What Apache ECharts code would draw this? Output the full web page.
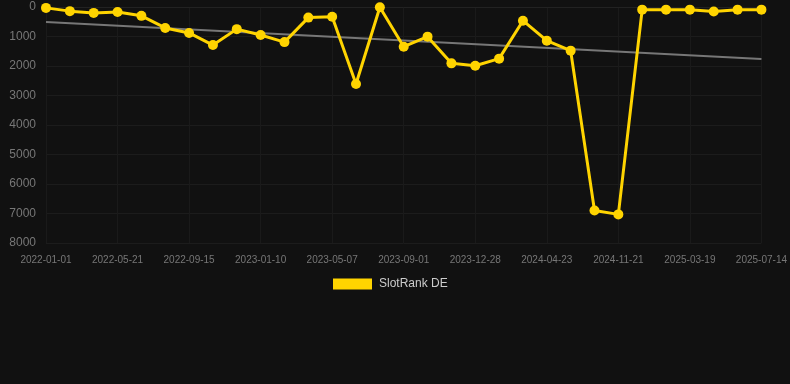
<!DOCTYPE html>
<html>
<head>
<meta charset="utf-8">
<script src="https://cdn.jsdelivr.net/npm/echarts@6/dist/echarts.min.js"></script>
<style>
html,body{margin:0;padding:0;background:#111111;}
#chart{width:790px;height:384px;}
</style>
</head>
<body>
<div id="chart"></div>
<script>
const categories = [
  '2022-01-01','2022-02-16','2022-04-03','2022-05-21','2022-06-29','2022-08-07',
  '2022-09-15','2022-10-24','2022-12-02','2023-01-10','2023-02-18','2023-03-29',
  '2023-05-07','2023-06-15','2023-07-24','2023-09-01','2023-10-10','2023-11-18',
  '2023-12-28','2024-02-05','2024-03-15','2024-04-23','2024-07-02','2024-09-10',
  '2024-11-21','2024-12-30','2025-02-07','2025-03-19','2025-04-27','2025-06-05',
  '2025-07-14'
];
const rankValues = [
  30, 140, 200, 170, 300, 710, 880, 1290, 750, 950, 1190, 360,
  330, 2610, 10, 1345, 1005, 1910, 1990, 1750, 465, 1140, 1480, 6900,
  7030, 90, 90, 90, 150, 90, 90
];
const trendValues = [510, null, null, null, null, null, null, null, null, null, null, null,
  null, null, null, null, null, null, null, null, null, null, null, null,
  null, null, null, null, null, null, 1760];
const yTicks = [0, 8000, 1000];
const seriesName = 'SlotRank DE';

const chart = echarts.init(document.getElementById('chart'));
chart.setOption({
  backgroundColor: '#111111',
  animation: false,
  grid: {left: 46, right: 28, top: 7, bottom: 141, containLabel: false},
  legend: {
    data: [seriesName],
    top: 273,
    left: 328,
    icon: 'rect',
    itemWidth: 39,
    itemHeight: 11,
    itemGap: 10,
    textStyle: {color: '#cccccc', fontSize: 12, padding: [0, 0, 0, 2], fontFamily: 'Liberation Sans, Arial, sans-serif'}
  },
  xAxis: {
    type: 'category',
    data: categories,
    boundaryGap: false,
    axisLine: {show: true, lineStyle: {color: '#222222'}},
    axisTick: {show: false},
    axisLabel: {interval: 2, color: '#777777', fontSize: 10, margin: 12, fontFamily: 'Liberation Sans, Arial, sans-serif'},
    splitLine: {show: true, interval: 2, lineStyle: {color: '#1a1a1a'}}
  },
  yAxis: {
    type: 'value',
    inverse: true,
    min: yTicks[0],
    max: yTicks[1],
    interval: yTicks[2],
    axisLine: {show: false},
    axisTick: {show: false},
    axisLabel: {color: '#777777', fontSize: 12, margin: 10, formatter: function (v) { return String(v); }, fontFamily: 'Liberation Sans, Arial, sans-serif'},
    splitLine: {show: true, lineStyle: {color: '#1c1c1c'}}
  },
  series: [
    {
      name: 'trend',
      type: 'line',
      data: trendValues,
      connectNulls: true,
      symbol: 'none',
      lineStyle: {color: '#777777', width: 2},
      z: 1,
      silent: true
    },
    {
      name: seriesName,
      type: 'line',
      data: rankValues,
      symbol: 'circle',
      symbolSize: 10,
      itemStyle: {color: '#FFD400'},
      lineStyle: {color: '#FFD400', width: 3},
      z: 2
    }
  ]
});
</script>
</body>
</html>
